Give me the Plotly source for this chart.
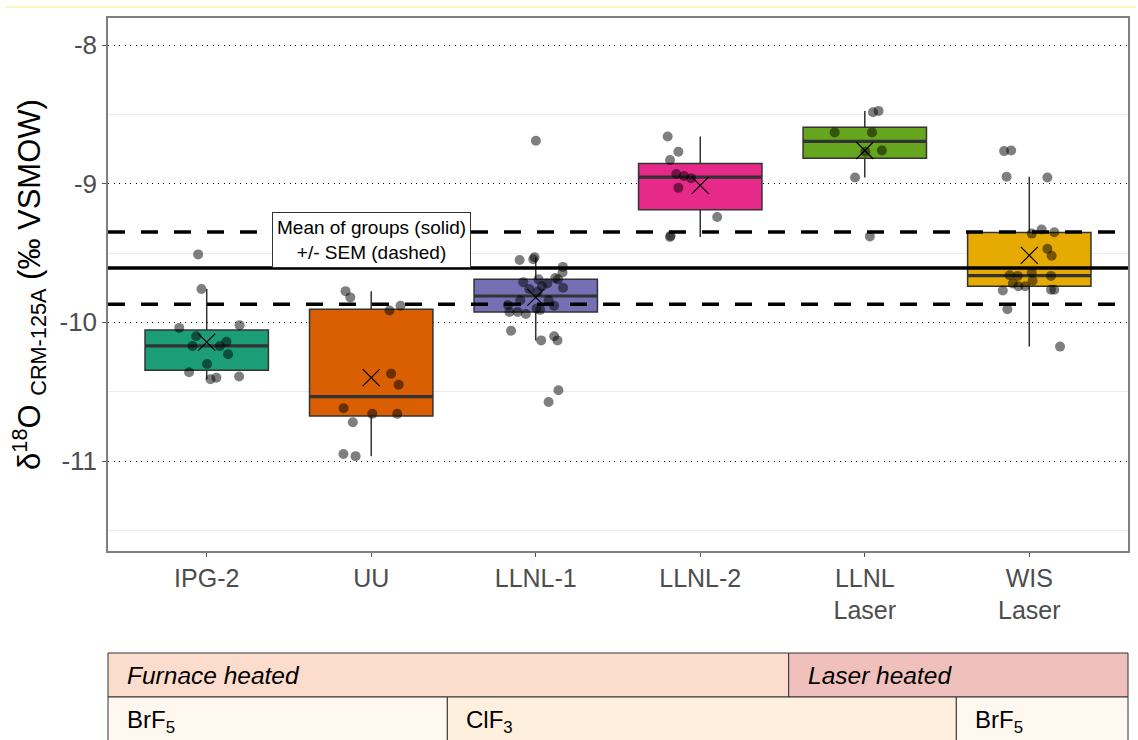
import numpy as np
import plotly.graph_objects as go

# ---- data -------------------------------------------------------------
labels = ["IPG-2", "UU", "LLNL-1", "LLNL-2", "LLNL<br>Laser", "WIS<br>Laser"]
tick_labels_y = ["-8", "-9", "-10", "-11"]
tick_values_y = [-8, -9, -10, -11]
colors = ["#1B9E77", "#D95F02", "#7570B3", "#E7298A", "#66A61E", "#E6AB02"]

ipg2 = [-9.51, -9.76, -10.04, -10.02, -10.10, -10.17, -10.14, -10.17, -10.23,
        -10.30, -10.36, -10.41, -10.40, -10.39]
ipg2_jit = [-0.052, -0.032, -0.167, 0.20, -0.064, -0.086, 0.12, 0.08, 0.13,
            0.002, -0.107, 0.023, 0.059, 0.197]

uu = [-9.775, -9.82, -9.88, -9.915, -10.37, -10.45, -10.62, -10.66, -10.66,
      -10.72, -10.95, -10.965]
uu_jit = [-0.156, -0.127, 0.178, 0.111, 0.121, 0.167, -0.168, 0.006, 0.158,
          -0.112, -0.169, -0.095]

llnl1 = [-9.55, -9.545, -9.53, -9.60, -9.64, -9.68, -9.69, -9.69, -9.71, -9.74,
         -9.75, -9.76, -9.78, -9.84, -9.84, -9.875, -9.88, -9.90, -9.91, -9.925,
         -9.925, -9.94, -10.06, -10.13, -10.10, -10.13, -10.49, -10.575, -8.69,
         -9.72]
llnl1_jit = [-0.098, -0.015, -0.007, 0.165, 0.163, 0.118, 0.135, 0.017, -0.076,
             0.038, 0.166, -0.039, 0.011, -0.094, 0.078, -0.169, 0.112, 0.005,
             0.027, -0.16, -0.11, -0.06, -0.15, 0.033, 0.112, 0.132, 0.138,
             0.078, 0.001, 0.07]

llnl2 = [-8.66, -8.77, -8.83, -8.93, -8.945, -8.96, -9.03, -9.24, -9.375, -9.385]
llnl2_jit = [-0.198, -0.133, -0.184, -0.146, -0.099, -0.055, -0.133, 0.103,
             -0.18, -0.184]

llnl_laser = [-8.485, -8.475, -8.63, -8.63, -8.77, -8.76, -8.955, -9.38]
llnl_laser_jit = [0.05, 0.084, -0.183, 0.044, 0.004, 0.104, -0.059, 0.031]

wis_laser = [-8.765, -8.76, -8.95, -8.955, -9.33, -9.35, -9.36, -9.47, -9.52,
             -9.64, -9.66, -9.665, -9.665, -9.70, -9.72, -9.74, -9.74, -9.77,
             -9.765, -9.765, -9.905, -10.175]
wis_laser_jit = [-0.153, -0.11, -0.138, 0.11, 0.075, 0.152, 0.015, 0.11, 0.136,
                 0.015, -0.12, -0.07, 0.132, 0.02, -0.1, -0.066, -0.025, -0.161,
                 0.132, 0.152, -0.133, 0.187]

groups = [ipg2, uu, llnl1, llnl2, llnl_laser, wis_laser]
jitters = [ipg2_jit, uu_jit, llnl1_jit, llnl2_jit, llnl_laser_jit, wis_laser_jit]

heating_labels = ["<i>Furnace heated</i>", "<i>Laser heated</i>"]
reagent_labels = ["BrF<sub>5</sub>", "ClF<sub>3</sub>", "BrF<sub>5</sub>"]

# ---- geometry ---------------------------------------------------------
W, H = 1138, 740
L, R, T, B = 108, 1130, 18, 551          # panel edges in pixels
BOX_W = 0.75
FONT = "Arial, Liberation Sans, sans-serif"


def px_x(px):
    return (px - L) / (R - L)


def px_y(py):
    return (B - py) / (B - T)


def tukey(values):
    """Quartiles (R type 7) and 1.5*IQR whisker ends."""
    v = np.asarray(values, dtype=float)
    q1, med, q3 = np.percentile(v, [25, 50, 75])
    iqr = q3 - q1
    lo = v[v >= q1 - 1.5 * iqr].min()
    hi = v[v <= q3 + 1.5 * iqr].max()
    return float(q1), float(med), float(q3), float(lo), float(hi)


means = [float(np.mean(g)) for g in groups]
grand_mean = float(np.mean(means))
sem = float(np.std(means, ddof=1) / np.sqrt(len(means)))

fig = go.Figure()

# boxes
for i, (g, c) in enumerate(zip(groups, colors)):
    q1, med, q3, lo, hi = tukey(g)
    fig.add_trace(go.Box(
        x=[i], q1=[q1], median=[med], q3=[q3], lowerfence=[lo], upperfence=[hi],
        width=BOX_W, fillcolor=c,
        line=dict(color="#333333", width=1.5),
        whiskerwidth=0, boxpoints=False,
        showlegend=False, hoverinfo="skip",
    ))

# thicker median bars
for i, g in enumerate(groups):
    med = tukey(g)[1]
    fig.add_trace(go.Scatter(
        x=[i - BOX_W / 2, i + BOX_W / 2], y=[med, med], mode="lines",
        line=dict(color="#333333", width=3.2), showlegend=False, hoverinfo="skip",
    ))

# grand mean and +/- SEM
xr = [-0.6, 5.6]
fig.add_trace(go.Scatter(x=xr, y=[grand_mean] * 2, mode="lines",
                         line=dict(color="black", width=3.5), showlegend=False))
for s in (-1, 1):
    fig.add_trace(go.Scatter(x=xr, y=[grand_mean + s * sem] * 2, mode="lines",
                             line=dict(color="black", width=3.5, dash="17px,16px"),
                             showlegend=False))

# jittered observations
px, py = [], []
for i, (g, j) in enumerate(zip(groups, jitters)):
    px += [i + d for d in j]
    py += g
fig.add_trace(go.Scatter(x=px, y=py, mode="markers",
                         marker=dict(size=10, color="rgba(0,0,0,0.5)"),
                         showlegend=False))

# group means
fig.add_trace(go.Scatter(x=list(range(len(groups))), y=means, mode="markers",
                         marker=dict(symbol="x-thin", size=17,
                                     line=dict(color="black", width=1.2)),
                         showlegend=False))

fig.add_annotation(x=1, y=grand_mean, xref="x", yref="y",
                   xanchor="center", yanchor="bottom", showarrow=False,
                   text="Mean of groups (solid)<br>+/- SEM (dashed)",
                   font=dict(family=FONT, size=19, color="black"),
                   bgcolor="white", bordercolor="#333333", borderwidth=1,
                   borderpad=4)

# ---- method table under the plot --------------------------------------
shapes = []
annots = []
row1 = (653, 697)
row2 = (697, 760)
heat_cells = [(L, 790, "#FCDCCD"), (790, R, "#F0C0BC")]
reag_cells = [(L, 448, "#FFF8F0"), (448, 958, "#FFF0DE"), (958, R, "#FFF8F0")]
for (x0, x1, fc), txt in zip(heat_cells, heating_labels):
    shapes.append(dict(type="rect", xref="paper", yref="paper",
                       x0=px_x(x0), x1=px_x(x1), y0=px_y(row1[1]), y1=px_y(row1[0]),
                       fillcolor=fc, line=dict(color="#333333", width=1)))
    annots.append(dict(x=px_x(x0 + 17), y=px_y((row1[0] + row1[1]) / 2),
                       xref="paper", yref="paper", xanchor="left", yanchor="middle",
                       showarrow=False, text=txt,
                       font=dict(family=FONT, size=24.5, color="black")))
for (x0, x1, fc), txt in zip(reag_cells, reagent_labels):
    shapes.append(dict(type="rect", xref="paper", yref="paper",
                       x0=px_x(x0), x1=px_x(x1), y0=px_y(row2[1]), y1=px_y(row2[0]),
                       fillcolor=fc, line=dict(color="#333333", width=1)))
    annots.append(dict(x=px_x(x0 + 17), y=px_y(721), xref="paper", yref="paper",
                       xanchor="left", yanchor="middle", showarrow=False, text=txt,
                       font=dict(family=FONT, size=24, color="black")))

# faint rule across the top of the page
shapes.append(dict(type="line", xref="paper", yref="paper",
                   x0=px_x(5), x1=px_x(W), y0=px_y(7), y1=px_y(7),
                   line=dict(color="#f2f27a", width=1)))

for a in annots:
    fig.add_annotation(**a)

fig.update_layout(
    width=W, height=H,
    margin=dict(l=L, r=W - R, t=T, b=H - B),
    paper_bgcolor="white", plot_bgcolor="white",
    font=dict(family=FONT),
    shapes=shapes,
    showlegend=False,
)
fig.update_xaxes(
    range=xr, tickvals=list(range(len(labels))), ticktext=labels,
    showgrid=False, zeroline=False,
    ticks="outside", ticklen=4, tickcolor="#555555",
    tickfont=dict(family=FONT, size=25, color="#4D4D4D"),
    showline=True, mirror=True, linecolor="#7F7F7F", linewidth=1.5,
)
fig.update_yaxes(
    range=[-11.649, -7.805], tickvals=tick_values_y, ticktext=tick_labels_y,
    showgrid=True, gridcolor="black", gridwidth=1.2, griddash="1.2px,4.3px",
    minor=dict(tickvals=[-11.5, -10.5, -9.5, -8.5], showgrid=True,
               gridcolor="#EBEBEB", gridwidth=1, griddash="solid", ticklen=0),
    zeroline=False,
    ticks="outside", ticklen=4, tickcolor="#555555",
    tickfont=dict(family=FONT, size=26, color="#4D4D4D"),
    showline=True, mirror=True, linecolor="#7F7F7F", linewidth=1.5,
    title=dict(text="δ<sup>18</sup>O <sub>CRM-125A</sub> (‰ VSMOW)",
               font=dict(family=FONT, size=31, color="black"), standoff=10),
)

fig.write_html("out.html")
